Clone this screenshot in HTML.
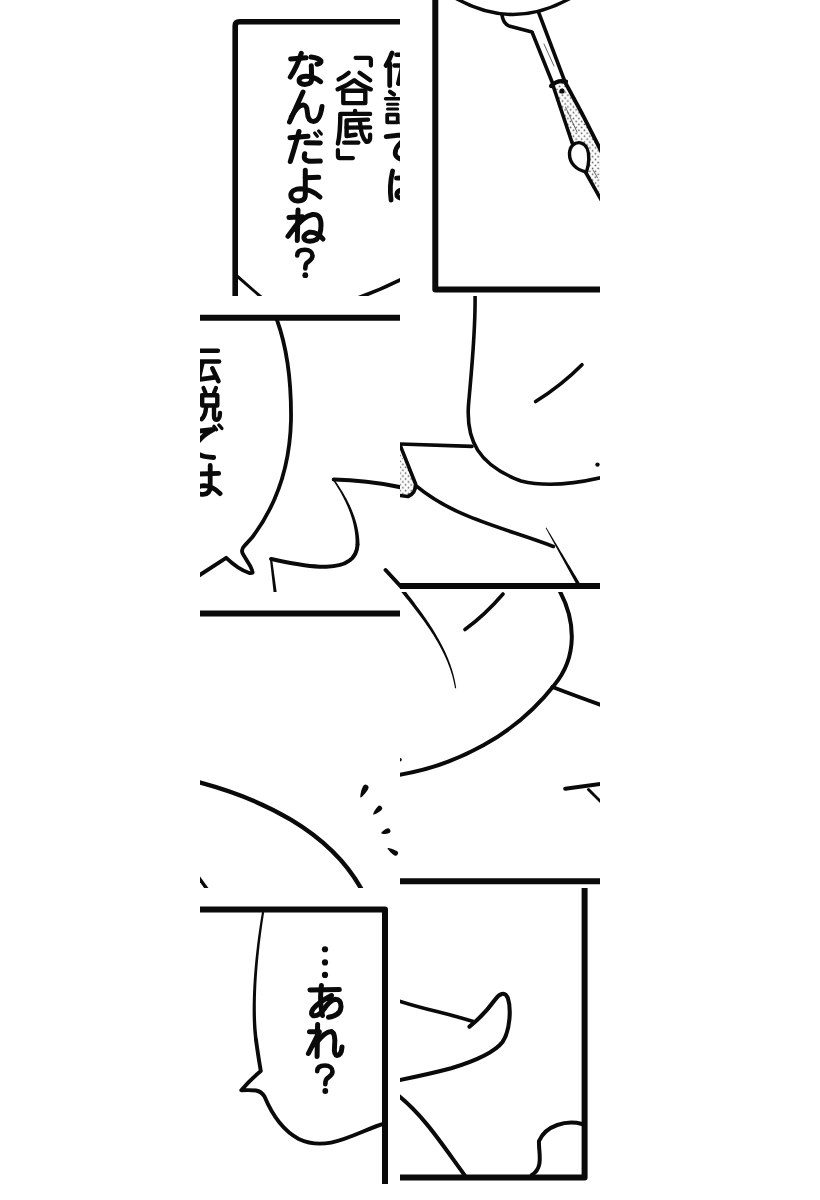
<!DOCTYPE html>
<html><head><meta charset="utf-8"><style>
html,body{margin:0;padding:0;background:#fff;width:820px;height:1200px;overflow:hidden;font-family:"Liberation Sans",sans-serif}
svg{display:block}
.s{fill:none;stroke:#0a0a0a;stroke-linecap:round;stroke-linejoin:round}
.f{fill:#0a0a0a;stroke:none}
circle{fill:#0a0a0a}
.k{fill:none;stroke:#0a0a0a;stroke-linecap:round;stroke-linejoin:round}
.g{fill:#0a0a0a;stroke:#0a0a0a;stroke-width:0.9;stroke-linejoin:round}
</style></head><body>
<svg width="820" height="1200" viewBox="0 0 820 1200">
<defs><clipPath id="t1"><rect x="200" y="0" width="200" height="296"/></clipPath><clipPath id="t2"><rect x="400" y="0" width="200" height="296"/></clipPath><clipPath id="t3"><rect x="200" y="296" width="200" height="296"/></clipPath><clipPath id="t4"><rect x="400" y="296" width="200" height="296"/></clipPath><clipPath id="t5"><rect x="200" y="592" width="200" height="296"/></clipPath><clipPath id="t6"><rect x="400" y="592" width="200" height="296"/></clipPath><clipPath id="t7"><rect x="200" y="888" width="200" height="296"/></clipPath><clipPath id="t8"><rect x="400" y="888" width="200" height="296"/></clipPath><pattern id="dots" width="5.5" height="5.86" patternUnits="userSpaceOnUse"><circle cx="1.4" cy="1.4" r="0.85" style="fill:#555"/><circle cx="4.15" cy="4.33" r="0.85" style="fill:#555"/></pattern></defs>
<g clip-path="url(#t1)"><path class="s" stroke-width="5.6" d="M235.2,300 V26 Q235.2,21.8 239.4,21.8 H404" /><path class="s" stroke-width="3" d="M237,276 L261,297" /><path class="s" stroke-width="3.6" d="M359,297.5 Q380,290 401,279.5" /><path class="k" stroke-width="4.8" d="M392,53 Q389.5,60 386,65.5"/><path class="k" stroke-width="4.8" d="M389.7,63.5 L389.7,85.7"/><path class="k" stroke-width="4.6" d="M396.5,54.8 L417.8,54.8"/><path class="k" stroke-width="4.6" d="M394.5,65.5 L419,65.5"/><path class="k" stroke-width="4.8" d="M402.2,67.2 L398.4,83.6 L414.7,81.3"/><path class="k" stroke-width="4.6" d="M412.3,72.3 L418.5,85.2"/><path class="k" stroke-width="4.2" d="M390,91.7 L394,94.5"/><path class="k" stroke-width="3.4" d="M385.5,98.8 L399,98.8"/><path class="k" stroke-width="3" d="M387.5,104.2 L397.7,104.2"/><path class="k" stroke-width="3" d="M387.5,109 L397.7,109"/><path class="k" stroke-width="3.8" d="M387.2,114.6 L397.7,114.6 L397.7,122.3 L387.2,122.3 Z"/><path class="k" stroke-width="4.2" d="M403.5,92 L405.5,96.7"/><path class="k" stroke-width="4.2" d="M416,92 L414,96.7"/><path class="k" stroke-width="4.4" d="M402.2,99.3 L417.3,99.3 L417.3,109.5 L402.2,109.5 Z"/><path class="k" stroke-width="4.4" d="M406.2,110.5 Q405.5,120 401.5,123.2"/><path class="k" stroke-width="4.4" d="M414,110 L414,120 Q414,123.8 417,123.8 Q419.8,123.5 420,117"/><path class="k" stroke-width="4.8" d="M386.2,136.7 L413.7,133.3 Q405,138 401,142.4 Q394,149 395.5,155 Q398.5,161 413.7,161.5"/><path class="k" stroke-width="3.3" d="M413.9,130.3 L416.6,133.8"/><path class="k" stroke-width="3.3" d="M418.8,128.9 L421.9,132.4"/><path class="k" stroke-width="4.8" d="M392.6,171 Q389,186 391.1,200.1"/><path class="k" stroke-width="4.8" d="M396.5,178.1 L418.7,177.3"/><path class="k" stroke-width="4.8" d="M410.2,169.4 L410.2,190.5 Q410,198.3 403.3,198.3 Q396.8,198.3 396.8,194.3 Q397.3,189.6 404,189.6 Q413,190 420.1,197.6"/><path class="k" stroke-width="4.2" d="M355.6,57.8 L368.6,57.8 Q370.9,57.8 370.9,60.2 L370.9,65.6"/><path class="k" stroke-width="4.4" d="M348.6,72.8 Q344.5,76.3 338.6,79.4"/><path class="k" stroke-width="4.4" d="M359.6,72.8 L370.2,80.2"/><path class="k" stroke-width="4.4" d="M337.6,89.3 Q347,86 354.3,80.3 Q361,86 370.8,89.3"/><path class="k" stroke-width="4.4" d="M343.3,90.8 L343.3,103.1 L365.3,103.1 L365.3,90.8 Z"/><path class="k" stroke-width="4.4" d="M355.1,110.9 L355.1,113.5"/><path class="k" stroke-width="4.4" d="M370.1,113.9 L340.3,113.9 Q340.3,133 337.9,143.6"/><path class="k" stroke-width="4.4" d="M368,119.6 L346.6,120.4 L346.6,136 L355.6,134.8"/><path class="k" stroke-width="4.4" d="M346.6,127.6 L370.1,127.4"/><path class="k" stroke-width="4.4" d="M359.9,121 Q360.8,137 366.3,141.8 Q370.6,142.5 370.1,134.8"/><path class="k" stroke-width="4.4" d="M344.3,142.6 L358.3,142.6"/><path class="k" stroke-width="4.2" d="M337.9,150 L337.9,156 Q337.9,158.1 340,158.1 L352.9,158.1"/><path class="k" stroke-width="5.0" d="M290.7,59 L306,57.7"/><path class="k" stroke-width="5.0" d="M301.3,53.3 Q297.5,66 290.3,77"/><path class="k" stroke-width="5.0" d="M311,57 Q319,58 321,61 Q321.5,63.5 317,64.2"/><path class="k" stroke-width="5.0" d="M311.3,65.8 L311.7,79 C311.8,84 306,85 302,84 C298,82.5 297.8,77.5 303.5,76.5 C310,75.8 316.5,78.5 320.7,81.7"/><path class="k" stroke-width="5.0" d="M303,92 L289.5,122"/><path class="k" stroke-width="5.0" d="M291.3,117 Q298,104.5 303.5,105 Q307,105.5 307.3,112 Q307.8,121.5 313.5,121.5 Q320,121.2 322,106.5"/><path class="k" stroke-width="5.0" d="M290,137.7 L308,136.3"/><path class="k" stroke-width="5.0" d="M299,131.5 Q295.5,145 290.3,161.5"/><path class="k" stroke-width="5.0" d="M306,142.7 L320.3,143"/><path class="k" stroke-width="5.0" d="M304.7,153.7 Q302.5,161.3 311,161.3 L320.3,161"/><path class="k" stroke-width="3.3" d="M314.7,133 L317.3,136.3"/><path class="k" stroke-width="3.3" d="M318.7,131 L321.3,134"/><path class="k" stroke-width="5.0" d="M305.3,170.3 L305.3,195 C305.3,200 301.5,201.2 297.5,201 C293,200.8 290.6,198 290.8,194.8 C291.2,190.8 295.5,188.8 300.5,188.8 C307.5,189 314.5,192 320,197"/><path class="k" stroke-width="5.0" d="M305.3,177.7 L318.7,177.3"/><path class="k" stroke-width="5.0" d="M298,210 L297.3,240.5"/><path class="k" stroke-width="5.0" d="M289,217.5 L302.5,216.8 L288,236.3"/><path class="k" stroke-width="5.0" d="M294,229 Q303,216.5 312.5,214.5 Q321,213.5 321,225 Q321,235 316.5,239.5 Q309.5,242.8 305,240 Q301.5,235.5 309,232.3 Q317,231.5 323,239"/><path class="k" stroke-width="4.6" d="M297.2,255.5 C297.2,251.3 300.8,249.8 305,249.8 C309.5,249.8 312.5,252.3 312.5,255.8 C312.5,259.5 309.3,261 307.3,262.5 C305.5,264 305.3,265.5 305.3,268.5"/><circle cx="305.3" cy="275.2" r="2.9"/></g>
<g clip-path="url(#t2)"><path class="s" stroke-width="6" d="M435.3,-4 V289.5 H604" stroke-linejoin="miter"/><path fill="url(#dots)" d="M553,85 L566,82 Q585,118 604,157 L604,205 L586,172 L572.5,144 Z"/><path class="s" stroke-width="3.6" d="M457,-1 Q513,30 569,-1" /><path class="s" stroke-width="3.6" d="M502,15 Q503,23 509,26 L532,32 L552.5,83" /><path class="s" stroke-width="3.6" d="M538.5,12 L565,82" /><path class="s" stroke-width="0.9" d="M544,44 L554,66" style="stroke:#555"/><path class="s" stroke-width="4.2" d="M551,86 Q557,79.5 566,81.5" /><path class="s" stroke-width="3.6" d="M552.5,84 L572.5,144" /><path class="s" stroke-width="3.8" d="M565,82 Q585,118 604,157" /><path class="s" stroke-width="3.6" d="M585.5,172 L604,205" /><path style="fill:#fff" class="s" stroke-width="3.4" d="M586.5,172 C576,170 569.5,163 569.5,154 C569.5,146 575,141.8 580.5,142.8 C586.5,144 589,151 588.8,159 C588.6,165 587.5,169 586.5,172 Z"/><circle cx="562" cy="91" r="2.6"/><path class="s" stroke-width="0.9" d="M565.5,107 L577,132" style="stroke:#555"/><path class="s" stroke-width="0.9" d="M593,170 L597.4,177.5" style="stroke:#555"/></g>
<g clip-path="url(#t3)"><path class="s" stroke-width="6" d="M196,317.8 H404" /><path class="s" stroke-width="3.8" d="M277,320 C286,345 291.5,380 291,420 C290,465 278,503 252.5,537 L244.4,545.9 Q240.3,549.8 243.2,554.6 L249.9,565.4 Q252.8,571.5 252.6,572.6 Q251,573.6 248.7,572.7 Q238,569 226.2,557.8 L196,577.5" stroke-linejoin="round"/><g transform="translate(-200,296)"><path class="k" stroke-width="4.8" d="M392,53 Q389.5,60 386,65.5"/><path class="k" stroke-width="4.8" d="M389.7,63.5 L389.7,85.7"/><path class="k" stroke-width="4.6" d="M396.5,54.8 L417.8,54.8"/><path class="k" stroke-width="4.6" d="M394.5,65.5 L419,65.5"/><path class="k" stroke-width="4.8" d="M402.2,67.2 L398.4,83.6 L414.7,81.3"/><path class="k" stroke-width="4.6" d="M412.3,72.3 L418.5,85.2"/><path class="k" stroke-width="4.2" d="M390,91.7 L394,94.5"/><path class="k" stroke-width="3.4" d="M385.5,98.8 L399,98.8"/><path class="k" stroke-width="3" d="M387.5,104.2 L397.7,104.2"/><path class="k" stroke-width="3" d="M387.5,109 L397.7,109"/><path class="k" stroke-width="3.8" d="M387.2,114.6 L397.7,114.6 L397.7,122.3 L387.2,122.3 Z"/><path class="k" stroke-width="4.2" d="M403.5,92 L405.5,96.7"/><path class="k" stroke-width="4.2" d="M416,92 L414,96.7"/><path class="k" stroke-width="4.4" d="M402.2,99.3 L417.3,99.3 L417.3,109.5 L402.2,109.5 Z"/><path class="k" stroke-width="4.4" d="M406.2,110.5 Q405.5,120 401.5,123.2"/><path class="k" stroke-width="4.4" d="M414,110 L414,120 Q414,123.8 417,123.8 Q419.8,123.5 420,117"/><path class="k" stroke-width="4.8" d="M386.2,136.7 L413.7,133.3 Q405,138 401,142.4 Q394,149 395.5,155 Q398.5,161 413.7,161.5"/><path class="k" stroke-width="3.3" d="M413.9,130.3 L416.6,133.8"/><path class="k" stroke-width="3.3" d="M418.8,128.9 L421.9,132.4"/><path class="k" stroke-width="4.8" d="M392.6,171 Q389,186 391.1,200.1"/><path class="k" stroke-width="4.8" d="M396.5,178.1 L418.7,177.3"/><path class="k" stroke-width="4.8" d="M410.2,169.4 L410.2,190.5 Q410,198.3 403.3,198.3 Q396.8,198.3 396.8,194.3 Q397.3,189.6 404,189.6 Q413,190 420.1,197.6"/></g><path class="f" d="M333.13,480.43 L334.30,482.19 L335.44,483.94 L336.54,485.68 L337.61,487.42 L338.65,489.15 L339.66,490.87 L340.64,492.59 L341.59,494.29 L342.51,495.99 L343.39,497.69 L344.24,499.38 L345.07,501.05 L345.86,502.73 L346.62,504.39 L347.35,506.05 L348.04,507.70 L348.71,509.34 L349.34,510.98 L349.95,512.60 L350.52,514.22 L351.06,515.83 L351.57,517.44 L352.05,519.03 L352.50,520.62 L352.92,522.20 L353.30,523.78 L353.66,525.34 L353.99,526.90 L354.28,528.45 L354.54,529.99 L354.78,531.52 L354.98,533.05 L355.15,534.57 L355.29,536.08 L355.40,537.58 L355.48,539.07 L355.53,540.56 L355.55,542.03 L355.54,543.50 L355.50,544.97 L359.50,545.03 L359.48,543.49 L359.43,541.94 L359.34,540.39 L359.22,538.83 L359.08,537.27 L358.90,535.70 L358.68,534.13 L358.44,532.55 L358.17,530.97 L357.86,529.39 L357.53,527.80 L357.16,526.20 L356.76,524.60 L356.33,523.00 L355.87,521.39 L355.38,519.78 L354.86,518.16 L354.30,516.54 L353.72,514.91 L353.10,513.28 L352.46,511.64 L351.78,510.00 L351.07,508.35 L350.34,506.70 L349.57,505.05 L348.77,503.38 L347.94,501.72 L347.08,500.05 L346.19,498.37 L345.26,496.69 L344.31,495.00 L343.33,493.31 L342.32,491.61 L341.27,489.91 L340.20,488.20 L339.09,486.48 L337.96,484.76 L336.79,483.04 L335.59,481.31 L334.37,479.57Z"/><path class="s" stroke-width="4" d="M357.50,545.00 C355.52,580.53 290.86,562.81 271.00,559.00 " /><path class="f" d="M269.91,559.14 L270.01,560.06 L270.11,560.99 L270.22,561.92 L270.32,562.84 L270.42,563.77 L270.52,564.69 L270.63,565.62 L270.73,566.55 L270.83,567.47 L270.93,568.40 L271.04,569.33 L271.14,570.25 L271.24,571.18 L271.34,572.11 L271.45,573.03 L271.55,573.96 L271.65,574.89 L271.76,575.81 L271.86,576.74 L271.96,577.67 L272.06,578.59 L272.17,579.52 L272.27,580.45 L272.37,581.37 L272.47,582.30 L272.58,583.23 L272.68,584.15 L272.78,585.08 L272.88,586.01 L272.99,586.93 L273.09,587.86 L273.19,588.79 L273.29,589.71 L273.40,590.64 L273.50,591.56 L273.60,592.49 L273.70,593.42 L273.81,594.34 L273.91,595.27 L274.01,596.20 L277.19,595.80 L277.06,594.88 L276.93,593.96 L276.81,593.03 L276.68,592.11 L276.55,591.19 L276.42,590.26 L276.30,589.34 L276.17,588.41 L276.04,587.49 L275.91,586.57 L275.79,585.64 L275.66,584.72 L275.53,583.80 L275.40,582.87 L275.28,581.95 L275.15,581.03 L275.02,580.10 L274.89,579.18 L274.77,578.26 L274.64,577.33 L274.51,576.41 L274.38,575.49 L274.26,574.56 L274.13,573.64 L274.00,572.72 L273.88,571.79 L273.75,570.87 L273.62,569.95 L273.49,569.02 L273.37,568.10 L273.24,567.18 L273.11,566.25 L272.98,565.33 L272.86,564.41 L272.73,563.48 L272.60,562.56 L272.47,561.63 L272.35,560.71 L272.22,559.79 L272.09,558.86Z"/><path class="s" stroke-width="4" d="M333.75,479.5 Q368,480 404,488" /><path class="s" stroke-width="4" d="M385.6,570 L404,590" /></g>
<g clip-path="url(#t4)"><path fill="url(#dots)" d="M396,445 L415.6,484 Q416,493 408,496.5 L396,495 Z"/><path class="s" stroke-width="3.6" d="M475,292 C476,330 471,375 468.5,405 C466,440 478,465 521,481 C545,487 575,484 604,477" /><path class="s" stroke-width="3.6" d="M535.6,401.6 Q562,385 582,364.75" /><circle cx="597.5" cy="464.6" r="2.2"/><path class="s" stroke-width="3.6" d="M396,443.8 L472,446.4" /><path class="s" stroke-width="3.6" d="M400,445 L415.6,484 Q416,493 408,496.5 L396,495" /><path class="s" stroke-width="3.6" d="M415.60,485.40 C454.92,518.66 506.61,528.30 553.30,546.50 " /><path class="f" d="M545.65,527.90 L546.47,529.40 L547.29,530.90 L548.11,532.40 L548.93,533.90 L549.75,535.40 L550.57,536.90 L551.39,538.40 L552.21,539.90 L553.03,541.40 L553.85,542.90 L554.67,544.40 L555.49,545.90 L556.31,547.40 L557.13,548.90 L557.95,550.40 L558.77,551.90 L559.59,553.40 L560.41,554.90 L561.23,556.40 L562.05,557.90 L562.87,559.40 L563.68,560.90 L564.50,562.40 L565.32,563.90 L566.14,565.40 L566.96,566.90 L567.78,568.40 L568.60,569.90 L569.42,571.40 L570.24,572.90 L571.06,574.40 L571.88,575.90 L572.70,577.40 L573.52,578.90 L574.34,580.40 L575.16,581.90 L575.98,583.40 L576.80,584.90 L577.62,586.40 L578.44,587.90 L581.56,586.10 L580.68,584.64 L579.80,583.17 L578.92,581.71 L578.04,580.24 L577.16,578.78 L576.28,577.31 L575.40,575.85 L574.52,574.38 L573.64,572.92 L572.76,571.45 L571.88,569.99 L571.00,568.52 L570.12,567.06 L569.24,565.59 L568.36,564.13 L567.48,562.66 L566.60,561.20 L565.72,559.73 L564.83,558.27 L563.95,556.80 L563.07,555.34 L562.19,553.87 L561.31,552.41 L560.43,550.94 L559.55,549.48 L558.67,548.01 L557.79,546.55 L556.91,545.08 L556.03,543.62 L555.15,542.15 L554.27,540.69 L553.39,539.22 L552.51,537.76 L551.63,536.29 L550.75,534.83 L549.87,533.36 L548.99,531.90 L548.11,530.43 L547.23,528.97 L546.35,527.50Z"/><path class="s" stroke-width="6" d="M396,586 H604" /></g>
<g clip-path="url(#t5)"><path class="s" stroke-width="6" d="M196,613.5 H400" /><path class="s" stroke-width="4.4" d="M196.0,781.5 C259.8,798.2 330.4,830.3 363.0,892.0" /><path class="s" stroke-width="3.5" d="M199,878 L207,889" /><path class="f" d="M363.02,786.27 A2.90,2.90 0 1 1 368.18,788.93 C365.63,793.88 360.94,797.73 360.50,797.50 C360.06,797.27 360.47,791.22 363.02,786.27 Z"/><path class="f" d="M377.58,806.65 A2.60,2.60 0 1 1 381.22,810.35 C378.12,813.40 373.55,814.96 373.20,814.60 C372.85,814.24 374.48,809.70 377.58,806.65 Z"/><path class="f" d="M386.94,828.44 A2.60,2.60 0 1 1 388.66,833.36 C385.36,834.51 381.36,833.67 381.20,833.20 C381.04,832.73 383.64,829.59 386.94,828.44 Z"/><path class="f" d="M396.86,851.10 A2.50,2.50 0 1 1 394.14,855.30 C390.14,852.70 387.23,848.42 387.50,848.00 C387.77,847.58 392.86,848.50 396.86,851.10 Z"/></g>
<g clip-path="url(#t6)"><path class="f" d="M401.02,591.69 L402.76,593.82 L404.51,595.97 L406.26,598.13 L408.01,600.31 L409.76,602.49 L411.51,604.70 L413.25,606.91 L414.98,609.14 L416.70,611.38 L418.42,613.64 L420.12,615.91 L421.80,618.19 L423.47,620.49 L425.12,622.80 L426.75,625.13 L428.35,627.47 L429.93,629.82 L431.49,632.19 L433.01,634.58 L434.51,636.98 L435.97,639.39 L437.39,641.82 L438.79,644.27 L440.14,646.73 L441.45,649.21 L442.72,651.70 L443.95,654.21 L445.13,656.73 L446.26,659.27 L447.35,661.83 L448.38,664.40 L449.36,666.99 L450.28,669.60 L451.14,672.23 L451.95,674.87 L452.69,677.53 L453.37,680.20 L453.98,682.90 L454.53,685.61 L455.01,688.34 L456.19,688.16 L455.78,685.39 L455.29,682.63 L454.73,679.89 L454.10,677.17 L453.41,674.46 L452.66,671.76 L451.85,669.09 L450.98,666.42 L450.05,663.78 L449.07,661.15 L448.03,658.53 L446.94,655.93 L445.80,653.35 L444.62,650.78 L443.39,648.23 L442.12,645.69 L440.81,643.17 L439.46,640.66 L438.07,638.17 L436.65,635.69 L435.20,633.23 L433.71,630.79 L432.19,628.36 L430.65,625.94 L429.09,623.54 L427.50,621.16 L425.89,618.79 L424.26,616.43 L422.61,614.09 L420.95,611.77 L419.28,609.46 L417.60,607.16 L415.91,604.88 L414.21,602.61 L412.50,600.36 L410.80,598.12 L409.09,595.90 L407.38,593.69 L405.68,591.50 L403.98,589.31Z"/><path class="s" stroke-width="3.6" d="M465,629.5 Q485,615 503,594" /><path class="s" stroke-width="4" d="M558.00,588.00 C575.87,618.89 578.36,656.73 553.75,685.75 C515.33,734.66 456.95,765.97 396.00,775.30 " /><path class="s" stroke-width="4" d="M552.5,687 Q575,695.75 604,706" /><circle cx="400" cy="759.7" r="1.8"/><path class="s" stroke-width="4" d="M565.2,788.8 L604,783.5" /><path class="s" stroke-width="3" d="M588.5,789.5 L604,805" /><path class="s" stroke-width="6" d="M396,881.3 H604" /></g>
<g clip-path="url(#t7)"><path class="s" stroke-width="6" d="M196,909.6 H385 V1190" stroke-linejoin="miter"/><path class="f" d="M262.02,911.82 L261.40,915.42 L260.80,919.04 L260.22,922.65 L259.67,926.27 L259.13,929.88 L258.61,933.50 L258.11,937.11 L257.64,940.71 L257.18,944.30 L256.74,947.89 L256.33,951.46 L255.94,955.01 L255.56,958.55 L255.21,962.07 L254.88,965.57 L254.57,969.04 L254.29,972.49 L254.02,975.91 L253.78,979.31 L253.56,982.67 L253.37,986.00 L253.20,989.29 L253.05,992.55 L252.92,995.76 L252.82,998.94 L252.74,1002.07 L252.68,1005.15 L252.65,1008.19 L252.64,1011.18 L252.66,1014.12 L252.70,1017.00 L252.77,1019.83 L252.86,1022.60 L252.97,1025.32 L253.12,1027.97 L253.28,1030.56 L253.48,1033.08 L253.70,1035.53 L253.94,1037.92 L254.22,1040.24 L257.78,1039.76 L257.48,1037.50 L257.21,1035.17 L256.96,1032.77 L256.73,1030.29 L256.53,1027.74 L256.36,1025.13 L256.21,1022.46 L256.08,1019.72 L255.98,1016.92 L255.91,1014.07 L255.86,1011.16 L255.83,1008.20 L255.83,1005.18 L255.85,1002.12 L255.89,999.01 L255.96,995.85 L256.05,992.66 L256.16,989.42 L256.30,986.14 L256.46,982.83 L256.64,979.49 L256.85,976.11 L257.08,972.70 L257.33,969.26 L257.60,965.80 L257.89,962.31 L258.21,958.81 L258.54,955.28 L258.90,951.74 L259.28,948.18 L259.68,944.60 L260.10,941.02 L260.54,937.42 L261.00,933.82 L261.48,930.22 L261.98,926.61 L262.50,923.00 L263.04,919.39 L263.61,915.78 L264.18,912.18Z"/><path class="s" stroke-width="3.9" d="M256,1040 Q258.5,1058 260.8,1071 Q250,1080 241.3,1090.3 Q250,1089.8 256,1090.5 Q261.5,1091.5 264.5,1096.6 C271.59,1113.51 281.82,1130.14 298.75,1139.00 C329.01,1153.34 357.78,1130.98 386.00,1123.00 " stroke-linejoin="round"/><circle cx="325" cy="949.25" r="3.1"/><circle cx="325" cy="962.4" r="3.1"/><circle cx="325" cy="974.9" r="3.1"/><path class="k" stroke-width="5.0" d="M310,990 L339.3,989.5"/><path class="k" stroke-width="5.0" d="M321.4,985.5 Q319.3,1002.5 322.5,1015.5"/><path class="k" stroke-width="5.0" d="M331.5,995.5 Q318,1002.5 313,1009 Q309.8,1014.5 313.5,1015.8 Q318.5,1016.5 324,1009 Q330,1000 335.5,999.2 Q341.2,999.5 341,1007 Q340.5,1015.5 328.5,1017.3"/><path class="k" stroke-width="5.0" d="M317.6,1024.5 L317.1,1056.5"/><path class="k" stroke-width="5.0" d="M309.5,1031.8 L319.3,1031.8 L308.4,1053.5"/><path class="k" stroke-width="5.0" d="M314.9,1044.8 Q325,1031 331.5,1031.5 Q335.8,1034 334.6,1045.5 Q333.6,1055 337,1055.5 Q341.5,1055 342,1047"/><path class="k" stroke-width="4.6" d="M317.2,1071.3 C317.2,1067 320.8,1065.5 325,1065.5 C329.5,1065.5 332.5,1068 332.5,1071.5 C332.5,1075.2 329.3,1076.7 327.3,1078.2 C325.5,1079.7 325.3,1081.2 325.3,1084.2"/><circle cx="325.3" cy="1091" r="2.9"/></g>
<g clip-path="url(#t8)"><path class="s" stroke-width="6" d="M396,1177.5 H584.6 V888" stroke-linejoin="miter"/><path class="s" stroke-width="3.6" d="M396.00,1000.00 C421.32,1008.77 447.69,1013.39 473.20,1021.50 " /><path class="s" stroke-width="4.1" d="M469.5,1026.6 Q484,1015 495.2,999.5 C499,994 505,990.5 508,998.5 C511,1008 510.5,1030 502.5,1042 C494,1053 475,1061 451.2,1068.3 C430,1074 410,1078 396,1080.8" /><path class="s" stroke-width="4" d="M397.00,1094.50 C424.74,1116.28 443.75,1146.97 464.60,1175.10 " /><path class="s" stroke-width="4" d="M531.70,1175.00 C544.26,1167.45 538.31,1152.18 539.00,1141.00 C545.96,1125.10 566.46,1119.90 582.00,1124.00 " /></g>
</svg>
</body></html>
